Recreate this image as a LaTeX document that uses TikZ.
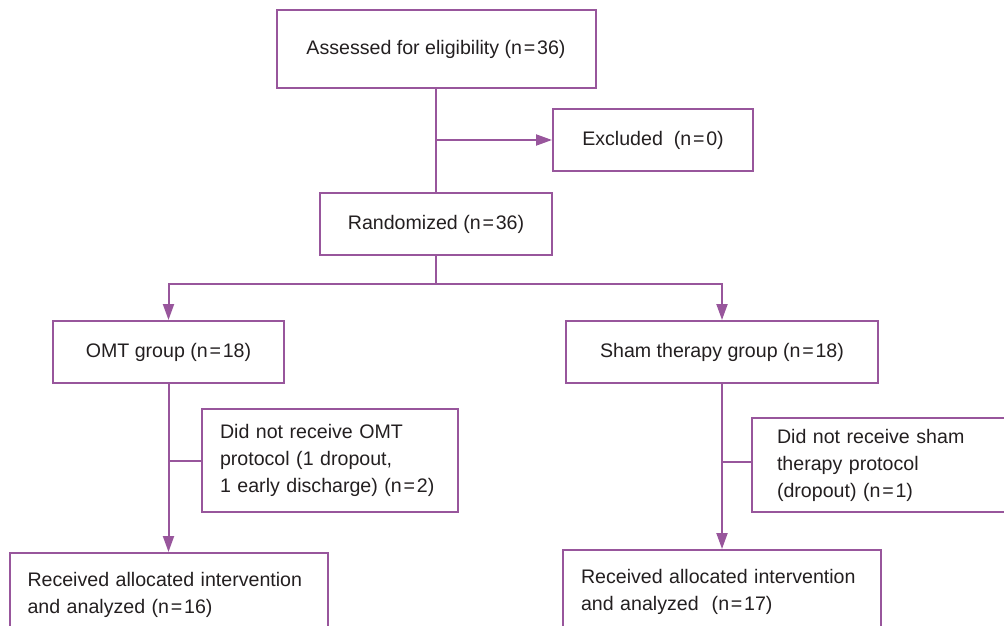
\documentclass[tikz,border=0pt]{standalone}
\usepackage{fontspec}
\setmainfont{Liberation Sans}
\usetikzlibrary{arrows.meta}
\definecolor{flowpurple}{RGB}{152,86,156}
\definecolor{flowtext}{RGB}{35,31,32}
\newcommand{\eqn}{\kern0.9pt=\kern0.9pt}
\tikzset{
  flowbox/.style={draw=flowpurple, line width=1pt, rectangle, inner sep=0pt,
    text=flowtext, font=\fontsize{9.8}{13.5}\selectfont},
  flowline/.style={draw=flowpurple, line width=1pt},
  flowarrow/.style={flowline, -{Triangle[length=8pt,width=5.5pt]}}
}
\begin{document}
\begin{tikzpicture}[x=0.5pt, y=-0.5pt]
\useasboundingbox (0,0) rectangle (1004,625);
\clip (0,0) rectangle (1004,625);

% boxes
\node[flowbox, minimum width=159.5pt, minimum height=39pt] (assess) at (436,49) {Assessed for eligibility (n\eqn36)};
\node[flowbox, minimum width=100pt, minimum height=31pt] (excl) at (653,140) {Excluded~~(n\eqn0)};
\node[flowbox, minimum width=116pt, minimum height=31pt] (rand) at (436,224) {Randomized (n\eqn36)};
\node[flowbox, minimum width=115.5pt, minimum height=31pt] (omt) at (168.5,352) {OMT group (n\eqn18)};
\node[flowbox, minimum width=156pt, minimum height=31pt] (sham) at (722,352) {Sham therapy group (n\eqn18)};
\node[flowbox, minimum width=128pt, minimum height=51.5pt, text width=110pt, align=left] (omtout) at (330,460.5)
  {Did not receive OMT\\protocol (1 dropout,\\1 early discharge) (n\eqn2)};
\node[flowbox, minimum width=140pt, minimum height=47pt, text width=115pt, align=left] (shamout) at (892,465)
  {Did not receive sham\\therapy protocol\\(dropout) (n\eqn1)};
\node[flowbox, minimum width=159pt, minimum height=42pt, text width=141pt, align=left] (recvomt) at (168.5,595)
  {Received allocated intervention\\and analyzed (n\eqn16)};
\node[flowbox, minimum width=159pt, minimum height=42pt, text width=141pt, align=left] (recvsham) at (722,592)
  {Received allocated intervention\\and analyzed~~(n\eqn17)};

% connectors
\coordinate (exclsplit) at (assess.south |- excl.west);
\coordinate (groupsplit) at (436,284);
\coordinate (omtsplit) at (omt.south |- omtout.west);
\coordinate (shamsplit) at (722,462);
\draw[flowline] (assess.south) -- (rand.north);
\draw[flowarrow] (exclsplit) -- (excl.west);
\draw[flowline] (rand.south) -- (groupsplit);
\draw[flowarrow] (groupsplit) -| (omt.north);
\draw[flowarrow] (groupsplit) -| (sham.north);
\draw[flowarrow] (omt.south) -- (recvomt.north);
\draw[flowline] (omtsplit) -- (omtout.west);
\draw[flowarrow] (sham.south) -- (recvsham.north);
\draw[flowline] (shamsplit) -- (shamsplit -| shamout.west);
\end{tikzpicture}
\end{document}
